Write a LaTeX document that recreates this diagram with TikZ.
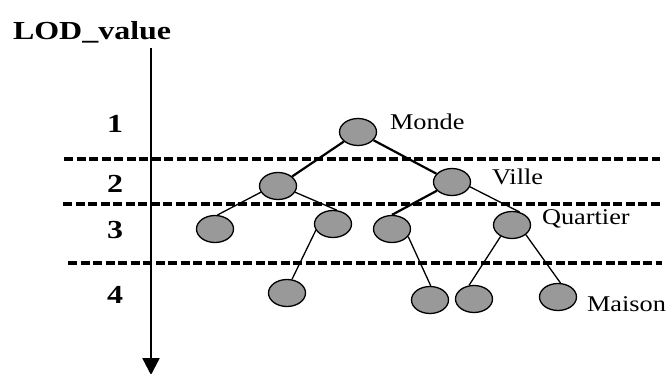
\documentclass[tikz,border=0pt]{standalone}
\usepackage{fontspec}
\setmainfont{Liberation Serif}
\usetikzlibrary{shapes.geometric,arrows.meta}
\newcommand{\lblbold}[1]{\scalebox{1.23}[1]{\fontsize{26}{26}\selectfont\bfseries #1}}
\newcommand{\lblreg}[1]{\scalebox{1.17}[1]{\fontsize{22.5}{22.5}\selectfont #1}}
\tikzset{
  tnode/.style={ellipse,draw=black,fill=black!40,line width=1.3pt,minimum width=37pt,minimum height=27pt,inner sep=0pt},
  thin edge/.style={line width=1.3pt},
  thick edge/.style={line width=2.2pt},
  level line/.style={line width=3.3pt,dash pattern=on 9pt off 3.5pt},
  txt/.style={anchor=base west,inner sep=0pt,outer sep=0pt}
}
\begin{document}
\begin{tikzpicture}[x=1pt,y=-1pt]
\useasboundingbox (0,0) rectangle (667,374);
% levels
\coordinate (d1a) at (64,159); \coordinate (d1b) at (660,159);
\coordinate (d2a) at (63,204); \coordinate (d2b) at (660,204);
\coordinate (d3a) at (68,263); \coordinate (d3b) at (662,263);
\draw[level line] (d1a) -- (d1b);
\draw[level line] (d2a) -- (d2b);
\draw[level line] (d3a) -- (d3b);
% axis
\coordinate (ax1) at (151,48); \coordinate (ax2) at (151,375);
\draw[line width=2.3pt,-{Triangle[width=17pt,length=17pt]}] (ax1) -- (ax2);
\node[txt] (lod) at (13,40) {\lblbold{LOD\_value}};
\node[txt] (n1) at (107,133) {\lblbold{1}};
\node[txt] (n2) at (107,193) {\lblbold{2}};
\node[txt] (n3) at (107,239) {\lblbold{3}};
\node[txt] (n4) at (107,303) {\lblbold{4}};
% tree nodes
\node[tnode] (monde) at (358,132) {};
\node[tnode] (lv) at (278,186) {};
\node[tnode] (rv) at (452,182) {};
\node[tnode] (q1) at (215,229) {};
\node[tnode] (q2) at (333,224) {};
\node[tnode] (q3) at (392,229) {};
\node[tnode] (q4) at (512,225) {};
\node[tnode] (m1) at (287,293) {};
\node[tnode] (m2) at (430,300) {};
\node[tnode] (m3) at (474,299) {};
\node[tnode] (m4) at (558,297) {};
% edges
\draw[thick edge] (monde) -- (lv);
\draw[thick edge] (monde) -- (rv);
\draw[thin edge] (lv.200) -- (q1.80);
\draw[thin edge] (lv.-20) -- (q2.75);
\draw[thick edge] (rv.210) -- (q3.90);
\draw[thin edge] (rv.-15) -- (q4.60);
\draw[thin edge] (q2.200) -- (m1.70);
\draw[thin edge] (q3.-25) -- (m2.87);
\draw[thin edge] (q4.225) -- (m3.110);
\draw[thin edge] (q4.-35) -- (m4.80);
% labels
\node[txt] (lmonde) at (390,130) {\lblreg{Monde}};
\node[txt] (lville) at (492,185) {\lblreg{Ville}};
\node[txt] (lquart) at (542,225) {\lblreg{Quartier}};
\node[txt] (lmaison) at (587,311) {\lblreg{Maison}};
\end{tikzpicture}
\end{document}
